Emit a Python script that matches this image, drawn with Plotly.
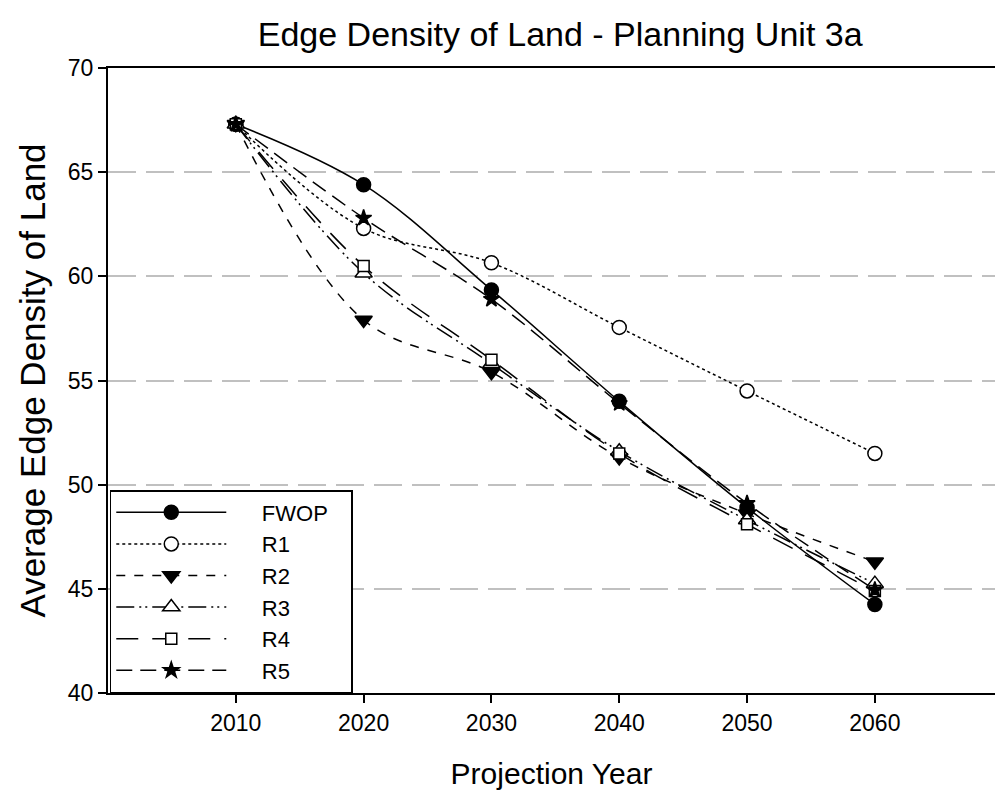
import plotly.graph_objects as go

years = [2010, 2020, 2030, 2040, 2050, 2060]
fwop = [67.3, 64.4, 59.35, 54.0, 48.9, 44.25]
r1 = [67.3, 62.3, 60.65, 57.55, 54.5, 51.5]
r2 = [67.3, 57.9, 55.4, 51.3, 48.6, 46.3]
r3 = [67.3, 60.15, 55.8, 51.6, 48.3, 45.25]
r4 = [67.3, 60.5, 56.0, 51.5, 48.1, 44.9]
r5 = [67.3, 62.8, 58.9, 53.9, 49.1, 44.95]
names = ["FWOP", "R1", "R2", "R3", "R4", "R5"]

styles = [
    ("solid", "circle", "black", 14),
    ("dot", "circle", "white", 14),
    ("dash", "triangle-down", "black", 15),
    ("18px,5px,2px,4px,2px,5px", "triangle-up", "white", 15),
    ("22px,14px", "square", "white", 11),
    ("16px,8px", "star", "black", 12),
]

fig = go.Figure()
for name, vals, (dash, sym, fill, size) in zip(names, [fwop, r1, r2, r3, r4, r5], styles):
    fig.add_trace(go.Scatter(
        x=years, y=vals, name="\u00a0" * 5 + name + "\u00a0" * 3, mode="lines+markers",
        line=dict(color="black", width=1.5, dash=dash, shape="spline", smoothing=1.0),
        marker=dict(symbol=sym, size=size, color=fill, line=dict(color="black", width=1.5)),
    ))

font = "Liberation Sans, Arial, sans-serif"
fig.update_layout(
    width=995, height=796,
    paper_bgcolor="white", plot_bgcolor="white",
    margin=dict(l=108, r=0, t=68, b=103),
    font=dict(family=font, color="black"),
    title=dict(text="Edge Density of Land - Planning Unit 3a", font=dict(size=34, color="black"),
               x=0.563, xref="container", xanchor="center", y=0.957, yanchor="middle"),
    xaxis=dict(range=[2000, 2069.4], tickvals=[2010, 2020, 2030, 2040, 2050, 2060],
               ticks="outside", ticklen=8, tickwidth=1.5, tickcolor="black",
               showline=True, linecolor="black", linewidth=2, mirror=True,
               showgrid=False, zeroline=False, tickfont=dict(size=23),
               title=dict(text="Projection Year", font=dict(size=30), standoff=28)),
    yaxis=dict(range=[40, 70], tickvals=[40, 45, 50, 55, 60, 65, 70],
               ticks="outside", ticklen=8, tickwidth=1.5, tickcolor="black",
               showline=True, linecolor="black", linewidth=2,
               showgrid=True, gridcolor="#c0c0c0", gridwidth=2, griddash="28px,10px",
               zeroline=False, tickfont=dict(size=23),
               title=dict(text="Average Edge Density of Land", font=dict(size=35), standoff=12)),
    legend=dict(x=0.002, y=0, xanchor="left", yanchor="bottom", bgcolor="white",
                bordercolor="black", borderwidth=1.5, font=dict(size=22),
                itemwidth=110, tracegroupgap=0),
)
fig.write_html("out.html", config={"displayModeBar": False},
               post_script="document.body.style.margin='0';document.body.style.overflow='hidden';")
